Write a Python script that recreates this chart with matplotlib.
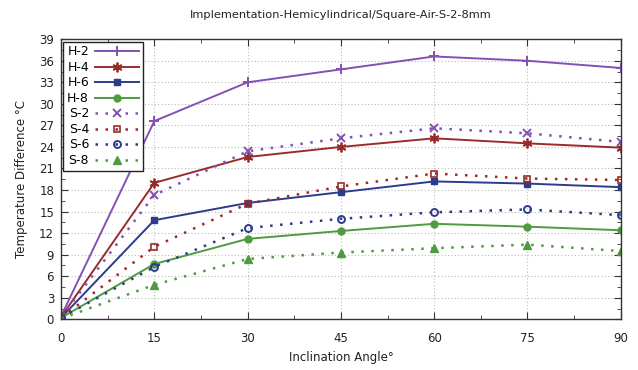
import matplotlib
matplotlib.use("Agg")
import matplotlib.pyplot as plt
from matplotlib.ticker import MultipleLocator

angles = [0, 15, 30, 45, 60, 75, 90]

h2 = [0.4, 27.6, 33.0, 34.8, 36.6, 36.0, 35.0]
h4 = [0.3, 19.0, 22.6, 24.0, 25.2, 24.5, 23.9]
h6 = [0.2, 13.8, 16.2, 17.7, 19.2, 18.9, 18.4]
h8 = [0.2, 7.7, 11.2, 12.3, 13.3, 12.9, 12.4]
s2 = [0.3, 17.3, 23.4, 25.2, 26.6, 25.9, 24.7]
s4 = [0.2, 10.1, 16.1, 18.5, 20.3, 19.6, 19.4]
s6 = [0.2, 7.3, 12.7, 14.0, 14.9, 15.3, 14.5]
s8 = [0.1, 4.8, 8.4, 9.3, 9.9, 10.4, 9.5]

purple = "#8450b4"
red = "#9b2b2b"
blue = "#2c3c8c"
green = "#4f9b3f"

fig = plt.figure(figsize=(6.38, 3.70), dpi=100)
ax = fig.add_axes([0.0956, 0.137, 0.8774, 0.757])

dots = (0, (1, 3))
ax.plot(angles, h2, color=purple, lw=1.4, marker="+", ms=7, mew=1.4, label="H-2")
ax.plot(angles, h4, color=red, lw=1.4, marker=(6, 2, 0), ms=7, mew=1.3, label="H-4")
ax.plot(angles, h6, color=blue, lw=1.4, marker="s", ms=5, label="H-6")
ax.plot(angles, h8, color=green, lw=1.4, marker="o", ms=5, label="H-8")
ax.plot(angles, s2, color=purple, lw=1.8, ls=dots, marker="x", ms=6, mew=1.4, label="S-2")
ax.plot(angles, s4, color=red, lw=1.8, ls=dots, marker="s", ms=5, mfc="none", mew=1.2, label="S-4")
ax.plot(angles, s6, color=blue, lw=1.8, ls=dots, marker="o", ms=5, mfc="none", mew=1.4, label="S-6")
ax.plot(angles, s8, color=green, lw=1.8, ls=dots, marker="^", ms=5.5, label="S-8")

ax.set_xlim(0, 90)
ax.set_ylim(0, 39)
ax.xaxis.set_major_locator(MultipleLocator(15))
ax.xaxis.set_minor_locator(MultipleLocator(7.5))
ax.yaxis.set_major_locator(MultipleLocator(3))
ax.yaxis.set_minor_locator(MultipleLocator(1.5))
ax.tick_params(which="both", direction="in", top=True, right=True, labelsize=8.5,
               colors="#333333", labelcolor="#222222")
ax.tick_params(which="major", length=5)
ax.tick_params(which="minor", length=3)
ax.tick_params(axis="x", which="major", pad=9)
ax.tick_params(axis="y", which="major", pad=5)
ax.grid(True, which="major", color="#bbbbbb", ls=(0, (1, 2)), lw=0.8)
for sp in ax.spines.values():
    sp.set_color("#333333")
    sp.set_linewidth(1)

ax.set_title("Implementation-Hemicylindrical/Square-Air-S-2-8mm", fontsize=8.2, pad=15,
             color="#222222")
ax.set_xlabel("Inclination Angle°", fontsize=8.5, color="#222222", va="center")
ax.xaxis.set_label_coords(0.5, -0.135)
ax.set_ylabel("Temperature Difference °C", fontsize=8.5, labelpad=8, color="#222222")

leg = ax.legend(loc="upper left", markerfirst=False, fontsize=9, handlelength=3.5,
                labelspacing=0.2, borderaxespad=0.2, fancybox=False, framealpha=1,
                edgecolor="#222222", borderpad=0.3, handletextpad=0.5)
leg.get_frame().set_linewidth(1)

fig.savefig("out.png", dpi=100)
